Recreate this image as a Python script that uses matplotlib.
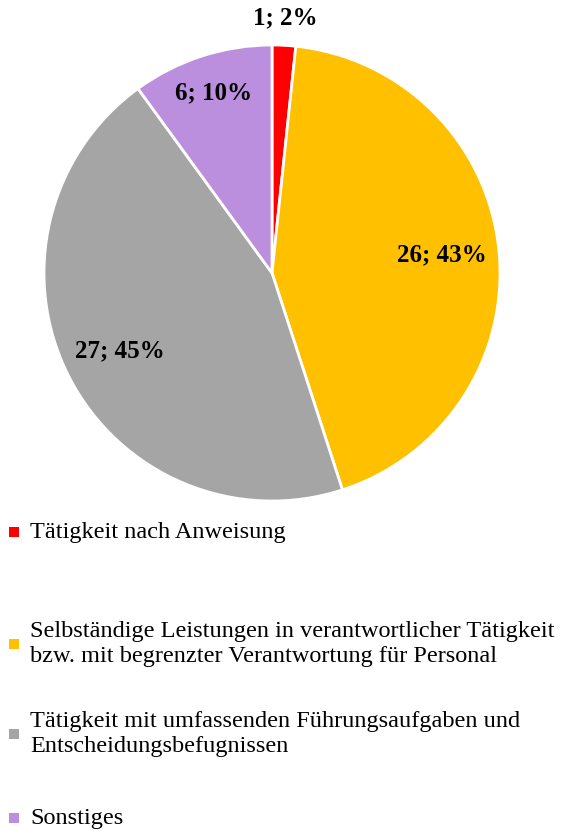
import numpy as np
import matplotlib.pyplot as plt
from matplotlib.patches import Rectangle

# data
categories = [
    "Tätigkeit nach Anweisung",
    "Selbständige Leistungen in verantwortlicher Tätigkeit\nbzw. mit begrenzter Verantwortung für Personal",
    "Tätigkeit mit umfassenden Führungsaufgaben und\nEntscheidungsbefugnissen",
    "Sonstiges",
]
counts = [1, 26, 27, 6]
percents = [2, 43, 45, 10]
colors = ["#FF0000", "#FFC000", "#A5A5A5", "#BB8FDD"]
label_dist = [1.12, 0.75, 0.75, 0.83]

W, H = 564, 830
plt.rcParams["font.family"] = ["Liberation Serif", "DejaVu Serif"]

fig = plt.figure(figsize=(W / 100, H / 100), dpi=100)

# pie axes: centre ~ (272, 273) px, radius ~228 px
cx, cy, r = 272, 273, 228
ax = fig.add_axes([(cx - r) / W, (H - cy - r) / H, 2 * r / W, 2 * r / H])
wedges, _ = ax.pie(counts, colors=colors, startangle=90, counterclock=False,
                   radius=1, wedgeprops=dict(edgecolor="white", linewidth=2))
ax.set_xlim(-1, 1)
ax.set_ylim(-1, 1)
ax.axis("off")

for w, c, p, d in zip(wedges, counts, percents, label_dist):
    ang = np.deg2rad((w.theta1 + w.theta2) / 2)
    ax.text(d * np.cos(ang), d * np.sin(ang), f"{c}; {p}%",
            ha="center", va="center", fontsize=18, fontweight="bold", color="black")

# legend drawn manually to match the uneven spacing
legend_y = [532, 644, 734, 818]
for lab, col, y in zip(categories, colors, legend_y):
    fig.patches.append(Rectangle((9 / W, 1 - (y + 5) / H), 10 / W, 10 / H,
                                 transform=fig.transFigure, facecolor=col,
                                 edgecolor="none"))
    fig.text(30 / W, 1 - y / H, lab, ha="left", va="center", fontsize=17.5,
             linespacing=1.22, color="black")

fig.savefig("out.png", dpi=100, facecolor="white")
